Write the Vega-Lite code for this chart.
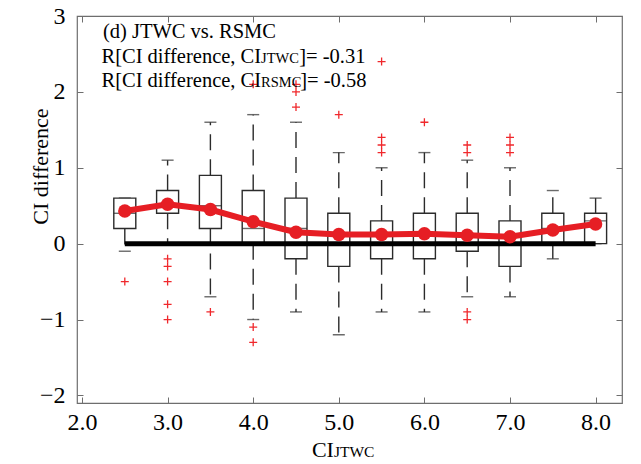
{
  "$schema": "https://vega.github.io/schema/vega-lite/v6.json",
  "width": 545,
  "height": 387,
  "autosize": {"type": "none"},
  "padding": {"left": 77, "top": 16, "right": 19, "bottom": 61},
  "background": "white",
  "config": {
    "font": "'Liberation Serif', 'Times New Roman', Times, 'DejaVu Serif', serif",
    "view": {"stroke": "#6e6e6e", "strokeWidth": 1.2},
    "text": {"font": "'Liberation Serif', 'Times New Roman', Times, 'DejaVu Serif', serif"},
    "axis": {
      "labelFont": "'Liberation Serif', 'Times New Roman', Times, 'DejaVu Serif', serif",
      "titleFont": "'Liberation Serif', 'Times New Roman', Times, 'DejaVu Serif', serif",
      "labelColor": "black",
      "titleColor": "black",
      "tickColor": "#6e6e6e",
      "tickWidth": 1,
      "grid": false,
      "domain": false,
      "labelFontSize": 24,
      "titleFontSize": 22,
      "titleFontWeight": "normal",
      "tickSize": -6,
      "labelFlush": false,
      "labelOverlap": false,
      "labelBound": false
    }
  },
  "datasets": {
    "boxes": [
      {"ci": 2.5, "lower": -0.1, "q1": 0.2, "median": 0.4, "q3": 0.6, "upper": 0.6, "mean": 0.43},
      {"ci": 3.0, "lower": 0.0, "q1": 0.4, "median": 0.5, "q3": 0.7, "upper": 1.1, "mean": 0.52},
      {"ci": 3.5, "lower": -0.7, "q1": 0.2, "median": 0.5, "q3": 0.9, "upper": 1.6, "mean": 0.45},
      {"ci": 4.0, "lower": -1.0, "q1": 0.0, "median": 0.2, "q3": 0.7, "upper": 1.7, "mean": 0.29},
      {"ci": 4.5, "lower": -0.9, "q1": -0.2, "median": 0.2, "q3": 0.6, "upper": 1.6, "mean": 0.15},
      {"ci": 5.0, "lower": -1.2, "q1": -0.3, "median": 0.1, "q3": 0.4, "upper": 1.2, "mean": 0.12},
      {"ci": 5.5, "lower": -0.9, "q1": -0.2, "median": 0.1, "q3": 0.3, "upper": 1.0, "mean": 0.12},
      {"ci": 6.0, "lower": -0.9, "q1": -0.2, "median": 0.1, "q3": 0.4, "upper": 1.2, "mean": 0.13},
      {"ci": 6.5, "lower": -0.7, "q1": -0.1, "median": 0.1, "q3": 0.4, "upper": 1.1, "mean": 0.11},
      {"ci": 7.0, "lower": -0.7, "q1": -0.3, "median": 0.1, "q3": 0.3, "upper": 1.0, "mean": 0.09},
      {"ci": 7.5, "lower": -0.2, "q1": 0.0, "median": 0.2, "q3": 0.4, "upper": 0.7, "mean": 0.18},
      {"ci": 8.0, "lower": 0.0, "q1": 0.0, "median": 0.3, "q3": 0.4, "upper": 0.6, "mean": 0.26}
    ],
    "outliers": [
      {"ci": 2.5, "value": -0.5},
      {"ci": 3.0, "value": -0.2}, {"ci": 3.0, "value": -0.3}, {"ci": 3.0, "value": -0.5}, {"ci": 3.0, "value": -0.8}, {"ci": 3.0, "value": -1.0},
      {"ci": 3.5, "value": -0.9},
      {"ci": 4.0, "value": 2.1}, {"ci": 4.0, "value": -1.1}, {"ci": 4.0, "value": -1.3},
      {"ci": 4.5, "value": 2.1}, {"ci": 4.5, "value": 2.0}, {"ci": 4.5, "value": 1.8},
      {"ci": 5.0, "value": 1.7},
      {"ci": 5.5, "value": 2.4}, {"ci": 5.5, "value": 1.4}, {"ci": 5.5, "value": 1.3}, {"ci": 5.5, "value": 1.2},
      {"ci": 6.0, "value": 1.6},
      {"ci": 6.5, "value": 1.3}, {"ci": 6.5, "value": 1.2}, {"ci": 6.5, "value": -0.9}, {"ci": 6.5, "value": -1.0},
      {"ci": 7.0, "value": 1.4}, {"ci": 7.0, "value": 1.3}, {"ci": 7.0, "value": 1.2}
    ],
    "zeroLine": [{"start": 2.5, "end": 8.0, "level": 0}],
    "notesLeft": [
      {"x": 2.244, "y": 2.714, "label": "(d) JTWC vs. RSMC"}
    ],
    "notesRight": [
      {"x": 4.092, "y": 2.376, "label": "R[CI difference, CI"},
      {"x": 4.092, "y": 2.059, "label": "R[CI difference, CI"}
    ],
    "notesTail": [
      {"x": 4.538, "y": 2.376, "label": "]= -0.31"},
      {"x": 4.55, "y": 2.059, "label": "]= -0.58"}
    ],
    "notesSub": [
      {"x": 4.092, "y": 2.376, "label": "JTWC"},
      {"x": 4.092, "y": 2.059, "label": "RSMC"}
    ],
    "xtitleMain": [{"x": 4.943, "y": -2.81, "label": "CI"}],
    "xtitleSub": [{"x": 4.943, "y": -2.81, "label": "JTWC"}]
  },
  "layer": [
    {
      "data": {"name": "boxes"},
      "mark": {"type": "rule", "color": "#2b2b2b", "strokeWidth": 1.4, "strokeDash": [16, 9]},
      "encoding": {
        "x": {"field": "ci", "type": "quantitative",
              "axis": {"orient": "top", "labels": false, "title": null, "values": [2, 3, 4, 5, 6, 7, 8]}},
        "y": {"field": "q3", "type": "quantitative",
              "axis": {"orient": "right", "labels": false, "title": null, "values": [-2, -1, 0, 1, 2, 3]}},
        "y2": {"field": "upper"}
      }
    },
    {
      "data": {"name": "boxes"},
      "mark": {"type": "rule", "color": "#2b2b2b", "strokeWidth": 1.4, "strokeDash": [16, 9]},
      "encoding": {
        "x": {"field": "ci", "type": "quantitative", "axis": null},
        "y": {"field": "q1", "type": "quantitative", "axis": null},
        "y2": {"field": "lower"}
      }
    },
    {
      "data": {"name": "boxes"},
      "mark": {"type": "tick", "orient": "horizontal", "color": "#2b2b2b", "size": 12, "thickness": 1.4},
      "encoding": {
        "x": {"field": "ci", "type": "quantitative", "axis": null},
        "y": {"field": "upper", "type": "quantitative", "axis": null}
      }
    },
    {
      "data": {"name": "boxes"},
      "mark": {"type": "tick", "orient": "horizontal", "color": "#2b2b2b", "size": 12, "thickness": 1.4},
      "encoding": {
        "x": {"field": "ci", "type": "quantitative", "axis": null},
        "y": {"field": "lower", "type": "quantitative", "axis": null}
      }
    },
    {
      "data": {"name": "boxes"},
      "mark": {"type": "bar", "width": 22, "fill": "white", "stroke": "#2b2b2b", "strokeWidth": 1.4},
      "encoding": {
        "x": {"field": "ci", "type": "quantitative",
              "scale": {"domain": [2, 8.25], "nice": false, "zero": false},
              "axis": {"orient": "bottom", "title": null, "values": [2, 3, 4, 5, 6, 7, 8], "format": ".1f", "labelPadding": 13}},
        "y": {"field": "q1", "type": "quantitative",
              "scale": {"domain": [-2.1, 3], "nice": false, "zero": false},
              "axis": {"orient": "left", "values": [-2, -1, 0, 1, 2, 3], "labelPadding": 18,
                       "title": "CI difference", "titleX": -37, "titleY": 150, "titleAngle": -90,
                       "titleAlign": "center", "titleBaseline": "middle"}},
        "y2": {"field": "q3"}
      }
    },
    {
      "data": {"name": "boxes"},
      "mark": {"type": "tick", "orient": "horizontal", "color": "#2b2b2b", "size": 22, "thickness": 1.4},
      "encoding": {
        "x": {"field": "ci", "type": "quantitative", "axis": null},
        "y": {"field": "median", "type": "quantitative", "axis": null}
      }
    },
    {
      "data": {"name": "zeroLine"},
      "mark": {"type": "rule", "color": "black", "strokeWidth": 5},
      "encoding": {
        "x": {"field": "start", "type": "quantitative", "axis": null},
        "x2": {"field": "end"},
        "y": {"field": "level", "type": "quantitative", "axis": null}
      }
    },
    {
      "data": {"name": "boxes"},
      "mark": {"type": "line", "color": "#e61e24", "strokeWidth": 6,
               "point": {"filled": true, "size": 180, "color": "#e61e24"}},
      "encoding": {
        "x": {"field": "ci", "type": "quantitative", "axis": null},
        "y": {"field": "mean", "type": "quantitative", "axis": null}
      }
    },
    {
      "data": {"name": "outliers"},
      "mark": {"type": "point", "shape": "M-1,0L1,0M0,-1L0,1", "filled": false,
               "stroke": "#f0282c", "strokeWidth": 1.3, "size": 64, "opacity": 1},
      "encoding": {
        "x": {"field": "ci", "type": "quantitative", "axis": null},
        "y": {"field": "value", "type": "quantitative", "axis": null}
      }
    },
    {
      "data": {"name": "notesLeft"},
      "mark": {"type": "text", "align": "left", "baseline": "alphabetic", "fontSize": 20.5, "color": "black"},
      "encoding": {
        "x": {"field": "x", "type": "quantitative", "axis": null},
        "y": {"field": "y", "type": "quantitative", "axis": null},
        "text": {"field": "label"}
      }
    },
    {
      "data": {"name": "notesRight"},
      "mark": {"type": "text", "align": "right", "baseline": "alphabetic", "fontSize": 20.5, "color": "black"},
      "encoding": {
        "x": {"field": "x", "type": "quantitative", "axis": null},
        "y": {"field": "y", "type": "quantitative", "axis": null},
        "text": {"field": "label"}
      }
    },
    {
      "data": {"name": "notesTail"},
      "mark": {"type": "text", "align": "left", "baseline": "alphabetic", "fontSize": 20.5, "color": "black"},
      "encoding": {
        "x": {"field": "x", "type": "quantitative", "axis": null},
        "y": {"field": "y", "type": "quantitative", "axis": null},
        "text": {"field": "label"}
      }
    },
    {
      "data": {"name": "notesSub"},
      "mark": {"type": "text", "align": "left", "baseline": "alphabetic", "fontSize": 14.5, "color": "black"},
      "encoding": {
        "x": {"field": "x", "type": "quantitative", "axis": null},
        "y": {"field": "y", "type": "quantitative", "axis": null},
        "text": {"field": "label"}
      }
    },
    {
      "data": {"name": "xtitleMain"},
      "mark": {"type": "text", "align": "right", "baseline": "alphabetic", "fontSize": 22, "color": "black"},
      "encoding": {
        "x": {"field": "x", "type": "quantitative", "axis": null},
        "y": {"field": "y", "type": "quantitative", "axis": null},
        "text": {"field": "label"}
      }
    },
    {
      "data": {"name": "xtitleSub"},
      "mark": {"type": "text", "align": "left", "baseline": "alphabetic", "fontSize": 15.5, "color": "black"},
      "encoding": {
        "x": {"field": "x", "type": "quantitative", "axis": null},
        "y": {"field": "y", "type": "quantitative", "axis": null},
        "text": {"field": "label"}
      }
    }
  ]
}
